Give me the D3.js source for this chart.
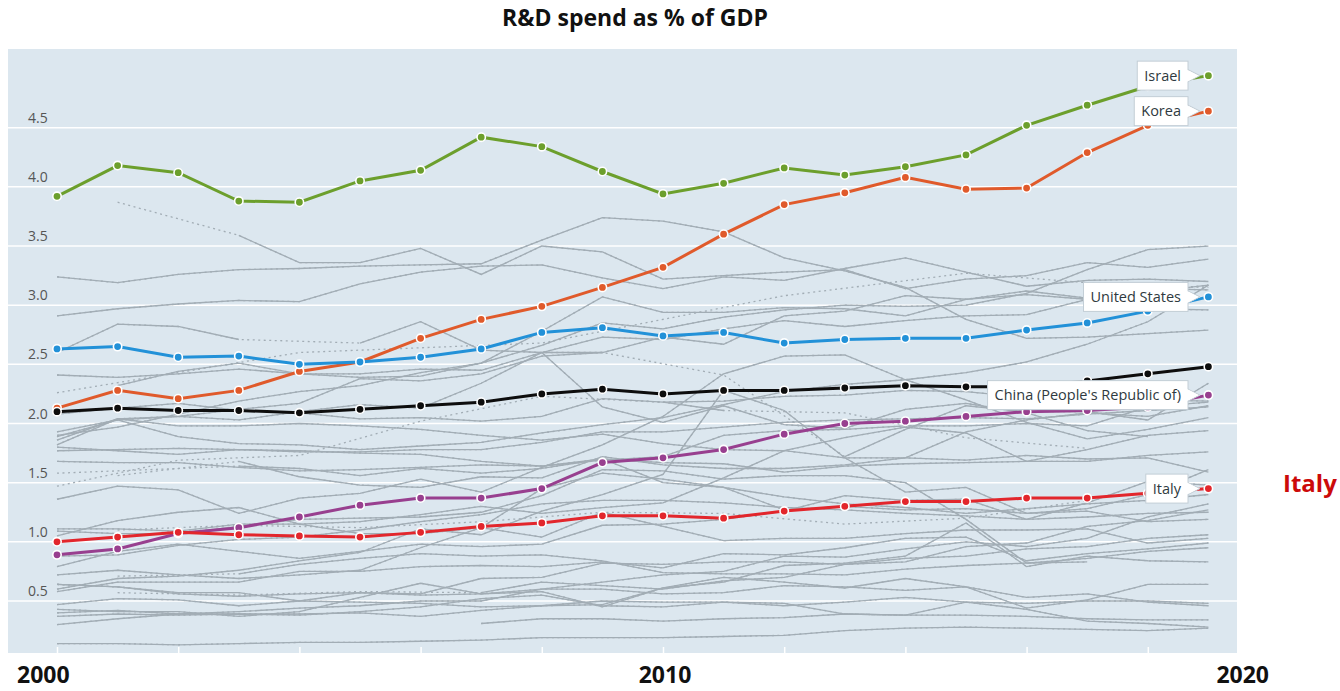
<!DOCTYPE html>
<html>
<head>
<meta charset="utf-8">
<script src="https://cdn.jsdelivr.net/npm/d3@7"></script>
<style>
  body { margin: 0; background: #fff; }
  svg { display: block; font-family: "Open Sans", "Noto Sans", sans-serif; }
</style>
</head>
<body>
<svg width="1340" height="691"></svg>
<script>
var years = [2000, 2001, 2002, 2003, 2004, 2005, 2006, 2007, 2008, 2009,
             2010, 2011, 2012, 2013, 2014, 2015, 2016, 2017, 2018, 2019];

// highlighted series
var israel = [3.92, 4.18, 4.12, 3.88, 3.87, 4.05, 4.14, 4.42, 4.34, 4.13, 3.94, 4.03, 4.16, 4.10, 4.17, 4.27, 4.52, 4.69, 4.85, 4.94];
var korea = [2.13, 2.28, 2.21, 2.28, 2.44, 2.52, 2.72, 2.88, 2.99, 3.15, 3.32, 3.60, 3.85, 3.95, 4.08, 3.98, 3.99, 4.29, 4.52, 4.64];
var unitedStates = [2.63, 2.65, 2.56, 2.57, 2.50, 2.52, 2.56, 2.63, 2.77, 2.81, 2.74, 2.77, 2.68, 2.71, 2.72, 2.72, 2.79, 2.85, 2.95, 3.07];
var oecd = [2.10, 2.13, 2.11, 2.11, 2.09, 2.12, 2.15, 2.18, 2.25, 2.29, 2.25, 2.28, 2.28, 2.30, 2.32, 2.31, 2.31, 2.36, 2.42, 2.48];
var china = [0.89, 0.94, 1.07, 1.12, 1.21, 1.31, 1.37, 1.37, 1.45, 1.67, 1.71, 1.78, 1.91, 2.00, 2.02, 2.06, 2.10, 2.11, 2.14, 2.24];
var italy = [1.00, 1.04, 1.08, 1.06, 1.05, 1.04, 1.08, 1.13, 1.16, 1.22, 1.22, 1.20, 1.26, 1.30, 1.34, 1.34, 1.37, 1.37, 1.41, 1.45];

// background series (null = no data that year)
var sweden = [null, 3.87, null, 3.59, 3.36, 3.36, 3.48, 3.26, 3.50, 3.45, 3.22, 3.25, 3.28, 3.30, 3.14, 3.22, 3.25, 3.36, 3.32, 3.39];
var finland = [3.24, 3.19, 3.26, 3.30, 3.31, 3.33, 3.34, 3.35, 3.55, 3.74, 3.71, 3.62, 3.40, 3.29, 3.15, 2.88, 2.72, 2.73, 2.76, 2.79];
var japan = [2.91, 2.97, 3.01, 3.04, 3.03, 3.18, 3.28, 3.33, 3.34, 3.23, 3.14, 3.24, 3.21, 3.31, 3.40, 3.28, 3.16, 3.21, 3.22, 3.20];
var switzerland = [2.26, null, null, null, 2.60, null, null, null, 2.68, null, null, null, 3.08, null, null, 3.27, null, 3.19, null, 3.15];
var austria = [1.89, 2.03, 2.06, 2.12, 2.17, 2.38, 2.36, 2.42, 2.57, 2.60, 2.73, 2.67, 2.91, 2.95, 3.08, 3.05, 3.12, 3.06, 3.14, 3.13];
var germany = [2.41, 2.39, 2.42, 2.46, 2.42, 2.42, 2.46, 2.45, 2.60, 2.73, 2.71, 2.80, 2.87, 2.82, 2.87, 2.91, 2.92, 3.05, 3.11, 3.17];
var denmark = [null, 2.32, 2.44, 2.51, 2.42, 2.39, 2.40, 2.51, 2.78, 3.07, 2.94, 2.94, 2.98, 2.97, 2.91, 3.05, 3.09, 3.05, 2.97, 2.96];
var iceland = [2.60, 2.84, 2.82, 2.71, null, 2.68, 2.86, 2.62, 2.60, 2.60, null, 2.41, null, 1.72, 1.95, 2.15, 2.10, 2.10, 2.03, 2.34];
var belgium = [1.93, 2.03, 1.89, 1.83, 1.82, 1.78, 1.81, 1.84, 1.92, 1.99, 2.05, 2.16, 2.27, 2.33, 2.37, 2.43, 2.52, 2.67, 2.86, 3.17];
var france = [2.08, 2.13, 2.17, 2.11, 2.09, 2.04, 2.05, 2.02, 2.06, 2.21, 2.18, 2.19, 2.23, 2.24, 2.28, 2.27, 2.22, 2.20, 2.20, 2.19];
var taipei = [1.90, 1.97, 2.08, 2.19, 2.27, 2.32, 2.43, 2.51, 2.66, 2.85, 2.80, 2.90, 2.96, 3.00, 2.99, 3.00, 3.10, 3.30, 3.47, 3.50];
var singapore = [1.82, 2.04, 2.06, 2.03, 2.10, 2.16, 2.13, 2.34, 2.60, 2.14, 2.01, 2.15, 1.99, 1.96, 2.12, 2.17, 2.09, 1.94, 1.89, null];
var canada = [1.86, 2.04, 1.98, 1.98, 2.00, 1.98, 1.95, 1.90, 1.86, 1.91, 1.83, 1.78, 1.77, 1.71, 1.71, 1.69, 1.73, 1.70, 1.71, 1.59];
var netherlands = [1.80, 1.77, 1.74, 1.78, 1.77, 1.75, 1.74, 1.68, 1.64, 1.69, 1.72, 1.90, 1.94, 1.95, 1.98, 1.98, 2.00, 1.98, 2.14, 2.18];
var eu28 = [1.77, 1.78, 1.79, 1.78, 1.76, 1.76, 1.78, 1.78, 1.84, 1.93, 1.93, 1.97, 2.01, 2.03, 2.04, 2.05, 2.04, 2.08, 2.11, 2.14];
var unitedKingdom = [1.68, 1.67, 1.67, 1.63, 1.60, 1.61, 1.63, 1.65, 1.64, 1.70, 1.67, 1.66, 1.59, 1.64, 1.66, 1.67, 1.68, 1.68, 1.73, 1.76];
var norway = [null, 1.56, null, 1.68, 1.55, 1.48, 1.46, 1.55, 1.54, 1.72, 1.65, 1.62, 1.62, 1.65, 1.71, 1.93, 2.03, 2.09, 2.06, 2.15];
var luxembourg = [1.58, null, null, 1.64, 1.62, 1.56, 1.62, 1.58, 1.62, 1.70, 1.50, 1.46, 1.27, 1.30, 1.27, 1.28, 1.24, 1.26, 1.17, 1.19];
var australia = [1.47, null, 1.69, null, 1.73, null, 2.02, null, 2.23, null, 2.18, 2.11, null, 2.09, null, 1.88, null, 1.79, null, null];
var slovenia = [1.36, 1.47, 1.44, 1.24, 1.37, 1.41, 1.53, 1.42, 1.63, 1.82, 2.06, 2.42, 2.57, 2.58, 2.37, 2.20, 2.01, 1.87, 1.95, 2.05];
var estonia = [0.60, 0.69, 0.71, 0.76, 0.84, 0.91, 1.11, 1.06, 1.26, 1.40, 1.57, 2.28, 2.11, 1.71, 1.42, 1.46, 1.24, 1.28, 1.40, 1.61];
var czechia = [1.11, 1.11, 1.09, 1.15, 1.15, 1.17, 1.23, 1.30, 1.24, 1.29, 1.33, 1.54, 1.77, 1.88, 1.97, 1.92, 1.68, 1.78, 1.90, 1.94];
var ireland = [1.09, 1.07, 1.07, 1.13, 1.19, 1.20, 1.21, 1.25, 1.39, 1.61, 1.60, 1.53, 1.56, 1.56, 1.50, 1.19, 0.82, 0.86, 0.92, 0.95];
var hungary = [0.79, 0.92, 0.98, 0.92, 0.86, 0.92, 0.98, 0.96, 0.98, 1.14, 1.15, 1.19, 1.26, 1.39, 1.35, 1.36, 1.19, 1.33, 1.51, 1.48];
var portugal = [0.72, 0.76, 0.72, 0.69, 0.72, 0.76, 0.95, 1.12, 1.45, 1.58, 1.53, 1.46, 1.38, 1.32, 1.29, 1.24, 1.28, 1.32, 1.35, 1.40];
var spain = [0.88, 0.89, 0.97, 1.02, 1.04, 1.10, 1.17, 1.23, 1.32, 1.35, 1.35, 1.33, 1.29, 1.27, 1.24, 1.22, 1.19, 1.21, 1.24, 1.25];
var newZealand = [null, 1.10, null, 1.14, null, 1.12, null, 1.17, null, 1.25, null, 1.24, null, 1.15, null, 1.20, null, 1.35, null, null];
var russia = [1.05, 1.18, 1.25, 1.29, 1.15, 1.07, 1.07, 1.12, 1.04, 1.25, 1.13, 1.01, 1.03, 1.03, 1.07, 1.10, 1.10, 1.11, 0.99, 1.03];
var greece = [null, 0.57, null, 0.55, null, 0.58, null, 0.57, 0.66, 0.63, 0.60, 0.67, 0.70, 0.81, 0.83, 0.96, 0.99, 1.13, 1.18, 1.27];
var southAfrica = [null, 0.71, null, 0.73, 0.81, 0.86, 0.90, 0.88, 0.89, 0.84, 0.74, 0.73, 0.73, 0.72, 0.77, 0.80, 0.82, 0.83, null, null];
var poland = [0.64, 0.62, 0.56, 0.54, 0.56, 0.57, 0.55, 0.56, 0.60, 0.66, 0.72, 0.75, 0.88, 0.87, 0.94, 1.00, 0.96, 1.03, 1.21, 1.32];
var slovakia = [0.64, 0.62, 0.57, 0.57, 0.50, 0.49, 0.48, 0.45, 0.46, 0.47, 0.61, 0.66, 0.80, 0.82, 0.88, 1.16, 0.79, 0.88, 0.84, 0.83];
var lithuania = [0.58, 0.66, 0.66, 0.66, 0.75, 0.75, 0.79, 0.80, 0.79, 0.83, 0.78, 0.90, 0.89, 0.95, 1.03, 1.04, 0.84, 0.90, 0.94, 0.99];
var turkey = [0.47, 0.52, 0.51, 0.46, 0.50, 0.57, 0.56, 0.69, 0.70, 0.82, 0.81, 0.83, 0.83, 0.81, 0.86, 0.88, 0.94, 0.96, 1.03, 1.06];
var latvia = [0.43, 0.41, 0.41, 0.37, 0.41, 0.53, 0.65, 0.56, 0.58, 0.45, 0.61, 0.70, 0.66, 0.61, 0.69, 0.62, 0.44, 0.51, 0.64, 0.64];
var argentina = [0.40, 0.42, 0.39, 0.41, 0.44, 0.46, 0.50, 0.50, 0.60, 0.60, 0.56, 0.57, 0.63, 0.62, 0.59, 0.62, 0.53, 0.56, 0.49, 0.46];
var romania = [0.37, 0.39, 0.38, 0.39, 0.38, 0.41, 0.45, 0.52, 0.55, 0.46, 0.45, 0.49, 0.48, 0.39, 0.38, 0.49, 0.48, 0.50, 0.50, 0.48];
var mexico = [0.30, 0.35, 0.39, 0.39, 0.39, 0.40, 0.37, 0.42, 0.46, 0.50, 0.49, 0.49, 0.46, 0.49, 0.53, 0.49, 0.43, 0.33, 0.31, 0.28];
var chile = [null, null, null, null, null, null, null, 0.31, 0.35, 0.35, 0.33, 0.35, 0.36, 0.39, 0.38, 0.38, 0.37, 0.35, 0.34, 0.34];
var colombia = [0.14, 0.14, 0.13, 0.14, 0.15, 0.15, 0.16, 0.17, 0.19, 0.19, 0.19, 0.20, 0.21, 0.25, 0.27, 0.28, 0.27, 0.26, 0.25, 0.27];

var background = [sweden, finland, japan, switzerland, austria, germany, denmark, iceland,
  belgium, france, taipei, singapore, canada, netherlands, eu28, unitedKingdom, norway,
  luxembourg, australia, slovenia, estonia, czechia, ireland, hungary, portugal, spain,
  newZealand, russia, greece, southAfrica, poland, slovakia, lithuania, turkey, latvia,
  argentina, romania, mexico, chile, colombia];

var highlighted = [
  {name: "Korea", values: korea, color: "#e05a2b", label: true},
  {name: "United States", values: unitedStates, color: "#2291d8", label: true},
  {name: "OECD", values: oecd, color: "#0d0d0d", label: false},
  {name: "China (People's Republic of)", values: china, color: "#983f8f", label: true},
  {name: "Italy", values: italy, color: "#e2262c", label: true},
  {name: "Israel", values: israel, color: "#6c9f2c", label: true}
];

var yTicks = [0.5, 1.0, 1.5, 2.0, 2.5, 3.0, 3.5, 4.0, 4.5];
var xMinorTicks = [2000, 2002, 2004, 2006, 2008, 2010, 2012, 2014, 2016, 2018];
var xLabels = [2000, 2010, 2020];

var svg = d3.select("svg"),
    plot = {left: 8, top: 49, right: 1237, bottom: 653};

var x = d3.scaleLinear()
    .domain([2000, 2019])
    .range([57, 1208.4]);

var y = d3.scaleLinear()
    .domain([0.5, 4.5])
    .range([601, 127.7]);

svg.append("text")
    .attr("x", 635)
    .attr("y", 26)
    .attr("text-anchor", "middle")
    .attr("font-size", 23)
    .attr("font-weight", "bold")
    .attr("fill", "#111")
    .text("R&D spend as % of GDP");

svg.append("rect")
    .attr("x", plot.left)
    .attr("y", plot.top)
    .attr("width", plot.right - plot.left)
    .attr("height", plot.bottom - plot.top)
    .attr("fill", "#dce7ef");

// grid + y labels
var grid = svg.append("g").selectAll("g")
    .data(yTicks)
  .enter().append("g")
    .attr("transform", function(d) { return "translate(0," + y(d) + ")"; });

grid.append("line")
    .attr("x1", plot.left)
    .attr("x2", plot.right)
    .attr("stroke", "#fff")
    .attr("stroke-width", 1.5);

grid.append("text")
    .attr("x", 28)
    .attr("y", -5)
    .attr("font-size", 14)
    .attr("fill", "#555")
    .text(function(d) { return d3.format(".1f")(d); });

// little white year ticks along the bottom
svg.append("g")
    .attr("transform", "translate(0," + plot.bottom + ")")
    .call(d3.axisTop(x).tickValues(xMinorTicks).tickSize(6).tickFormat(""))
    .call(function(g) { g.select(".domain").remove(); })
    .call(function(g) { g.selectAll("line").attr("stroke", "#fff").attr("stroke-width", 1.5); });

var line = d3.line()
    .defined(function(d) { return d[1] != null; })
    .x(function(d) { return x(d[0]); })
    .y(function(d) { return y(d[1]); });

function pairs(values) {
  return values.map(function(v, i) { return [years[i], v]; });
}

// background countries: dotted across gaps, solid where years are consecutive
var bg = svg.append("g")
    .attr("fill", "none")
    .attr("stroke", "#a2adb5")
    .selectAll("g")
    .data(background.map(pairs))
  .enter().append("g");

bg.append("path")
    .attr("stroke-width", 1.3)
    .attr("stroke-dasharray", "2,3.5")
    .attr("d", function(d) { return line(d.filter(function(p) { return p[1] != null; })); });

bg.append("path")
    .attr("stroke-width", 1.3)
    .attr("d", line);

// highlighted countries
var hl = svg.append("g").selectAll("g")
    .data(highlighted)
  .enter().append("g");

hl.append("path")
    .attr("fill", "none")
    .attr("stroke", function(d) { return d.color; })
    .attr("stroke-width", 3)
    .attr("d", function(d) { return line(pairs(d.values)); });

hl.selectAll("circle")
    .data(function(d) { return pairs(d.values).map(function(p) { return {p: p, color: d.color}; }); })
  .enter().append("circle")
    .attr("cx", function(d) { return x(d.p[0]); })
    .attr("cy", function(d) { return y(d.p[1]); })
    .attr("r", 4.2)
    .attr("fill", function(d) { return d.color; })
    .attr("stroke", "#fff")
    .attr("stroke-width", 1.6);

// callout boxes at the end of each labelled line
var boxRight = 1188, boxH = 29, pad = 7;

var callout = svg.append("g").selectAll("g")
    .data(highlighted.filter(function(d) { return d.label; }))
  .enter().append("g")
    .attr("transform", function(d) { return "translate(0," + y(d.values[d.values.length - 1]) + ")"; });

callout.append("path")
    .attr("d", "M" + (boxRight - 2) + ",-7L" + (boxRight + 12) + ",0L" + (boxRight - 2) + ",7Z")
    .attr("fill", "#fff")
    .attr("stroke", "#c3ced6")
    .attr("stroke-width", 1);

callout.append("rect")
    .attr("class", "box")
    .attr("y", -boxH / 2)
    .attr("height", boxH)
    .attr("fill", "#fff")
    .attr("stroke", "#c3ced6")
    .attr("stroke-width", 1);

callout.append("path")
    .attr("d", "M" + (boxRight - 1) + ",-6L" + (boxRight + 10) + ",0L" + (boxRight - 1) + ",6Z")
    .attr("fill", "#fff");

callout.append("text")
    .attr("x", boxRight - pad)
    .attr("y", 5)
    .attr("text-anchor", "end")
    .attr("font-size", 14.5)
    .attr("fill", "#2f3a40")
    .text(function(d) { return d.name; });

callout.each(function() {
  var g = d3.select(this),
      w = g.select("text").node().getComputedTextLength();
  g.select("rect.box")
      .attr("x", boxRight - w - 2 * pad)
      .attr("width", w + 2 * pad);
});

// x labels
svg.append("g").selectAll("text")
    .data(xLabels)
  .enter().append("text")
    .attr("x", function(d) { return x(d); })
    .attr("dx", function(d, i) { return [-40, 2, 0][i]; })
    .attr("y", 683)
    .attr("text-anchor", function(d, i) { return ["start", "middle", "end"][i]; })
    .attr("font-size", 23)
    .attr("font-weight", "bold")
    .attr("fill", "#111")
    .text(function(d) { return d; });

svg.append("text")
    .attr("x", 1283)
    .attr("y", 492)
    .attr("font-size", 24)
    .attr("font-weight", "bold")
    .attr("fill", "#cc0a0a")
    .text("Italy");
</script>
</body>
</html>
